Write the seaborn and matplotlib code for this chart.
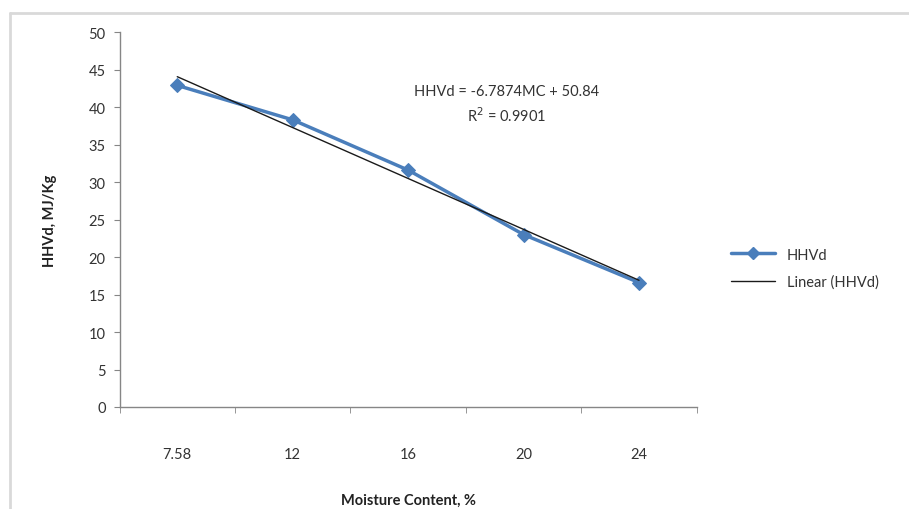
import numpy as np
import pandas as pd
import matplotlib
matplotlib.use("Agg")
import matplotlib.pyplot as plt
from matplotlib.lines import Line2D
import seaborn as sns

sns.set_style("white")
plt.rcParams["font.family"] = ["Lato", "DejaVu Sans"]

moisture = ["7.58", "12", "16", "20", "24"]
hhvd = [42.9, 38.3, 31.6, 23.0, 16.6]

df = pd.DataFrame({"pos": np.arange(len(moisture)), "MC": moisture, "HHVd": hhvd})

# linear trendline over category index (1..n), like excel does
slope, intercept = np.polyfit(df["pos"] + 1, df["HHVd"], 1)
df["trend"] = slope * (df["pos"] + 1) + intercept

fig = plt.figure(figsize=(9.09, 5.10), dpi=100)
ax = fig.add_axes([0.1315, 0.2, 0.635, 0.735])

# chart area border
fig.add_artist(plt.Line2D([10/909, 10/909], [0, 1 - 14/510], color="#d9d9d9", lw=2, transform=fig.transFigure))
fig.add_artist(plt.Line2D([10/909, 1], [1 - 14/510, 1 - 14/510], color="#d9d9d9", lw=2, transform=fig.transFigure))

blue = "#4a7ebb"
sns.lineplot(data=df, x="pos", y="HHVd", ax=ax, color=blue, lw=2.5,
             marker="D", markersize=7, markeredgecolor=blue)
sns.lineplot(data=df, x="pos", y="trend", ax=ax, color="#1a1a1a", lw=1)

ax.set_xlim(-0.5, len(moisture) - 0.5)
ax.set_ylim(0, 50)
ax.set_yticks(range(0, 51, 5))
ax.set_xticks(df["pos"])
ax.set_xticklabels(moisture)
ax.set_xticks(np.arange(-0.5, len(moisture), 1), minor=True)
ax.tick_params(axis="x", which="major", length=0, pad=29, labelsize=10.5, colors="#333333")
ax.tick_params(axis="x", which="minor", length=4, direction="out", color="#868686", bottom=True)
ax.tick_params(axis="y", length=4, direction="out", color="#868686", left=True, labelsize=10.5,
               colors="#868686", pad=6)
for lab in ax.get_yticklabels():
    lab.set_color("#333333")

for s in ["top", "right"]:
    ax.spines[s].set_visible(False)
for s in ["left", "bottom"]:
    ax.spines[s].set_color("#868686")
    ax.spines[s].set_linewidth(1)

ax.set_xlabel("Moisture Content, %", fontsize=10.5, fontweight="bold", labelpad=23, color="#222222")
ax.set_ylabel("HHVd, MJ/Kg", fontsize=10.5, fontweight="bold", labelpad=23, color="#222222")

ax.text(2.85, 42.1, "HHVd = -6.7874MC + 50.84", ha="center", va="center", fontsize=10.5, color="#333333")
ax.text(2.85, 39.0, "R$^2$ = 0.9901", ha="center", va="center", fontsize=10.5, color="#333333")

handles = [Line2D([], [], color=blue, lw=2.5, marker="D", markersize=6),
           Line2D([], [], color="#1a1a1a", lw=1)]
fig.legend(handles, ["HHVd", "Linear (HHVd)"], loc="center left", bbox_to_anchor=(0.79, 0.472),
           frameon=False, fontsize=10.5, handlelength=3, labelspacing=0.9, labelcolor="#333333")

ax.grid(False)
fig.savefig("out.png", dpi=100)
